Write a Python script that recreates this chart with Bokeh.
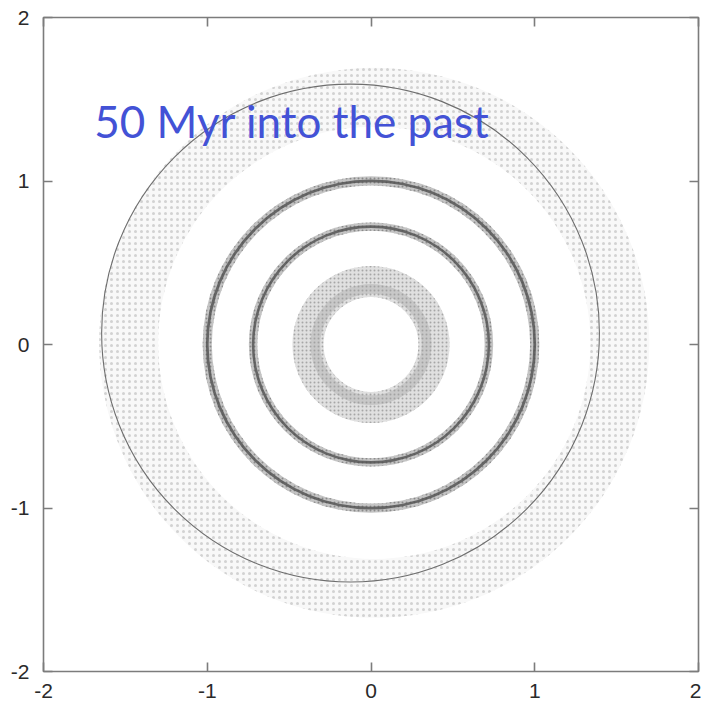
from bokeh.plotting import figure
from bokeh.models import Range1d, LinearAxis, FixedTicker, Label
from bokeh.embed import file_html
from bokeh.resources import INLINE

# Particle rings around the central body: centre, mean radius, radial half-spread
ring_names = ["outer halo", "ring 1.0", "ring 0.72", "inner belt", "inner core"]
ring_cx = [0.02, 0.0, 0.0, 0.0, 0.0]
ring_cy = [0.01, 0.0, 0.0, 0.0, 0.0]
ring_r = [1.50, 1.00, 0.72, 0.385, 0.34]
ring_hw = [0.18, 0.028, 0.026, 0.095, 0.03]

# Narrow orbit traced by the outermost group
orbit_cx = [-0.125]
orbit_cy = [0.07]
orbit_r = [1.52]

ticks = [-2, -1, 0, 1, 2]
tick_labels = ["-2", "-1", "0", "1", "2"]
caption = "50 Myr into the past"

FRAME = "#7c7c7c"

p = figure(width=701, height=713, output_backend="svg", toolbar_location=None,
           x_range=Range1d(-2, 2), y_range=Range1d(-2, 2),
           min_border_left=43, min_border_right=3, min_border_top=17,
           min_border_bottom=42)
p.background_fill_color = "white"
p.border_fill_color = "white"
p.outline_line_color = FRAME
p.outline_line_width = 1.6
p.grid.visible = False

inner = [r - w for r, w in zip(ring_r, ring_hw)]
outer = [r + w for r, w in zip(ring_r, ring_hw)]

# diffuse outer halo: very pale fill plus a sparse stipple
p.annulus(x=ring_cx[0], y=ring_cy[0], inner_radius=inner[0], outer_radius=outer[0],
          fill_color="#f8f8f8", line_color=None,
          hatch_pattern=".", hatch_color="#d2d2d2", hatch_scale=6, hatch_weight=1.0)

# inner belt: broad grey band with stipple, slightly denser core on its inner side
p.annulus(x=ring_cx[3], y=ring_cy[3], inner_radius=inner[3], outer_radius=outer[3],
          fill_color="#e0e0e0", line_color=None,
          hatch_pattern=".", hatch_color="#a6a6a6", hatch_scale=4, hatch_weight=1.1)
p.annulus(x=ring_cx[4], y=ring_cy[4], inner_radius=inner[4], outer_radius=outer[4],
          fill_color="#9a9a9a", fill_alpha=0.35, line_color=None)

# two narrow, dense rings: soft halo and dark core
for i in (1, 2):
    p.annulus(x=ring_cx[i], y=ring_cy[i], inner_radius=inner[i], outer_radius=outer[i],
              fill_color="#c4c4c4", line_color=None,
              hatch_pattern=".", hatch_color="#8a8a8a", hatch_scale=4, hatch_weight=1.1)
    p.annulus(x=ring_cx[i], y=ring_cy[i],
              inner_radius=ring_r[i] - ring_hw[i] * 0.3,
              outer_radius=ring_r[i] + ring_hw[i] * 0.3,
              fill_color="#4f4f4f", fill_alpha=0.8, line_color=None)

# thin orbit line
p.circle(x=orbit_cx, y=orbit_cy, radius=orbit_r, fill_color=None,
         line_color="#6e6e6e", line_width=1.1)

p.add_layout(Label(x=-1.69, y=1.366, text=caption, text_font="Lato",
                   text_font_size="44px", text_color="#4352d6",
                   text_baseline="alphabetic"))

ticker = FixedTicker(ticks=ticks)


def style_axis(ax, show_labels):
    ax.ticker = ticker
    ax.axis_line_color = None
    ax.major_tick_in = 9
    ax.major_tick_out = 0
    ax.minor_tick_line_color = None
    ax.major_tick_line_color = FRAME
    ax.major_tick_line_width = 1.6
    if show_labels:
        ax.major_label_overrides = {t: s for t, s in zip(ticks, tick_labels)}
        ax.major_label_text_font = "Liberation Sans"
        ax.major_label_text_font_size = "21px"
        ax.major_label_text_color = "#2a2a2a"
        ax.major_label_standoff = 14
    else:
        ax.major_label_overrides = {t: "" for t in ticks}
        ax.major_label_standoff = 0


style_axis(p.xaxis[0], True)
p.xaxis[0].major_label_standoff = 12
style_axis(p.yaxis[0], True)

top_ax = LinearAxis()
right_ax = LinearAxis()
p.add_layout(top_ax, "above")
p.add_layout(right_ax, "right")
style_axis(top_ax, False)
style_axis(right_ax, False)

open("out.html", "w").write(file_html(p, INLINE))
